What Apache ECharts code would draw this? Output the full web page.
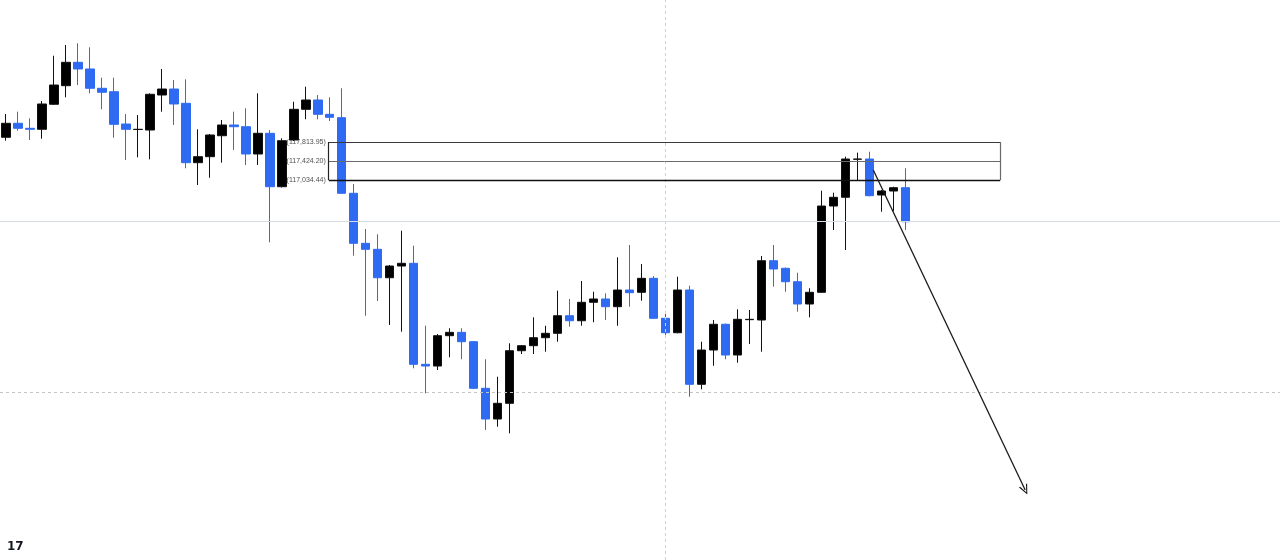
<!DOCTYPE html>
<html>
<head>
<meta charset="utf-8">
<style>
html,body{margin:0;padding:0;background:#fff;}
#chart{width:1280px;height:560px;}
</style>
<script src="https://cdn.jsdelivr.net/npm/echarts@6/dist/echarts.min.js"></script>
</head>
<body>
<div id="chart"></div>
<script>
// ---- data ----
const categories = Array.from({length: 76}, (_, i) => String(i + 1));
const opens = [117911,118198,118095,118075,118588,118969,119449,119312,118916,118846,118183,118070,118060,118778,118901,118608,117390,117513,117943,118163,118128,117568,117993,116897,117855,118485,118676,118382,118313,116762,115736,115613,115030,115270,115326,113254,113219,113841,113910,113718,112762,112132,112454,113533,113636,113800,113890,114251,114148,114526,114594,114436,114778,114731,115018,114198,113902,114778,112844,113547,114075,113445,114170,114163,115379,115223,114948,114491,114731,116501,116680,117460,117465,116727,116809,116877];
const closes = [118198,118095,118075,118594,118983,119449,119312,118916,118834,118177,118075,118075,118793,118901,118594,117390,117513,117958,118163,118128,117568,117993,116897,117841,118485,118676,118382,118321,116762,115736,115613,115030,115270,115326,113254,113219,113841,113910,113718,112762,112132,112454,113533,113636,113800,113890,114251,114148,114526,114594,114436,114778,114723,115018,114198,113902,114778,112844,113547,114075,113445,114177,114177,115379,115209,114948,114491,114731,116501,116680,117465,117465,116713,116809,116877,116179];
const lows = [117841,118046,117855,117882,118573,118731,118983,118813,118485,117902,117445,117500,117459,118436,118163,117275,116932,117082,117390,117650,117342,117342,115757,116881,117835,118280,118280,118245,116750,115482,114251,114553,114060,113923,113172,112659,113137,113398,113357,112747,111906,111974,111839,113465,113465,113513,113718,114025,114046,114116,114163,114046,114436,114559,114190,113855,113890,112589,112741,113225,113357,113287,113670,113513,114846,114743,114333,114218,114720,116009,115599,117020,116700,116384,116399,116009];
const highs = [118389,118436,118300,118655,119584,119804,119839,119757,119133,119133,118389,118368,118813,119312,119086,119100,118075,117978,118265,118436,118505,118813,118060,117890,118641,118949,118778,118731,118916,116953,116030,115921,115291,115995,115687,114046,113876,113993,113993,113732,113357,113000,113685,113650,114218,114046,114764,114594,114963,114743,114710,115449,115701,115312,115065,114300,115051,114866,113718,114163,114090,114382,114368,115476,115701,115240,115133,114813,116815,116774,117513,117595,117615,116829,116897,117275];

const boxLevels = [117813.95, 117424.20, 117034.44];
const boxLabels = ['(117,813.95)', '(117,424.20)', '(117,034.44)'];
const priceLine = 116194;
const dashedLevel = 112686;
const arrowStartPrice = 117240;
const arrowEndPrice = 110676;
const logoText = '17';

// ---- build ----
const TOTAL = 106; // empty slots to the right of the last bar
const axisCats = categories.concat(Array.from({length: TOTAL - categories.length}, () => ''));
const candleData = opens.map((o, i) => [o, closes[i], lows[i], highs[i]]);

const BOX_L = 26.917, BOX_R = 82.917;
const XMIN = -0.5, XMAX = TOTAL - 0.5;
const YMIN = 109240, YMAX = 120727;

function seg(a, b, style, endSym) {
  const end = {coord: b};
  if (endSym) { end.symbol = endSym.symbol; end.symbolSize = endSym.size; }
  return [{coord: a, lineStyle: style}, end];
}

const chevron = 'path://M0,10 L5,0 L10,10 L8.6,10 L5,2.6 L1.4,10 Z';

const option = {
  animation: false,
  backgroundColor: '#ffffff',
  grid: [
    {left: -1, width: TOTAL * 12, top: 0, height: 560, containLabel: false},
    {left: 0, right: 0, top: 0, height: 560, containLabel: false}
  ],
  xAxis: [
    {type: 'category', data: axisCats, show: false, boundaryGap: true, gridIndex: 0},
    {type: 'value', min: XMIN, max: XMAX, show: false, gridIndex: 0},
    {type: 'value', min: 0, max: 1, show: false, gridIndex: 1}
  ],
  yAxis: [
    {type: 'value', min: YMIN, max: YMAX, show: false, splitLine: {show: false}, gridIndex: 0},
    {type: 'value', min: YMIN, max: YMAX, show: false, splitLine: {show: false}, gridIndex: 1}
  ],
  series: [
    {
      type: 'line',
      xAxisIndex: 2,
      yAxisIndex: 1,
      data: [],
      silent: true,
      z: 1,
      markLine: {
        silent: true,
        symbol: ['none', 'none'],
        label: {show: false},
        emphasis: {disabled: true},
        data: [
          seg([0, priceLine], [1, priceLine], {color: '#d7dbe3', width: 1, type: 'solid'}),
          seg([0, dashedLevel], [1, dashedLevel], {color: '#c4c4c4', width: 1, type: [3, 3]})
        ]
      }
    },
    {
      type: 'line',
      xAxisIndex: 1,
      yAxisIndex: 0,
      data: [],
      silent: true,
      z: 1,
      markLine: {
        silent: true,
        symbol: ['none', 'none'],
        label: {show: false},
        emphasis: {disabled: true},
        data: [
          seg([55, YMIN], [55, YMAX], {color: '#d2d2d2', width: 1, type: [3, 3]})
        ]
      }
    },
    {
      type: 'candlestick',
      xAxisIndex: 0,
      yAxisIndex: 0,
      data: candleData,
      barWidth: 9,
      z: 3,
      itemStyle: {
        color: '#000000',
        color0: '#2f6bf2',
        borderColor: '#111111',
        borderColor0: '#2f6bf2',
        borderWidth: 1
      },
      emphasis: {disabled: true}
    },
    {
      type: 'line',
      xAxisIndex: 1,
      yAxisIndex: 0,
      data: [],
      silent: true,
      z: 5,
      markLine: {
        silent: true,
        symbol: ['none', 'none'],
        label: {show: false},
        emphasis: {disabled: true},
        data: [
          seg([BOX_L, boxLevels[0]], [BOX_R, boxLevels[0]], {color: '#3a3a3a', width: 1.2, type: 'solid'}),
          seg([BOX_L, boxLevels[1]], [BOX_R, boxLevels[1]], {color: '#6a6a6a', width: 1, type: 'solid'}),
          seg([BOX_L, boxLevels[2]], [BOX_R, boxLevels[2]], {color: '#111111', width: 1.4, type: 'solid'}),
          seg([BOX_L, boxLevels[0]], [BOX_L, boxLevels[2]], {color: '#222222', width: 1.2, type: 'solid'}),
          seg([BOX_R, boxLevels[0]], [BOX_R, boxLevels[2]], {color: '#6a6a6a', width: 1.2, type: 'solid'}),
          seg([72.33, arrowStartPrice], [85, arrowEndPrice], {color: '#1a1a1a', width: 1.3, type: 'solid'},
              {symbol: chevron, size: [9, 10]})
        ]
      }
    },
    {
      type: 'scatter',
      xAxisIndex: 1,
      yAxisIndex: 0,
      symbolSize: 0,
      silent: true,
      z: 2,
      data: boxLevels.map((v, i) => ({value: [BOX_L, v], name: boxLabels[i]})),
      label: {
        show: true,
        position: 'left',
        distance: 3,
        formatter: p => p.name,
        fontSize: 7,
        fontFamily: 'Liberation Sans, Arial, sans-serif',
        color: '#222222'
      }
    }
  ],
  graphic: [
    {
      type: 'text',
      left: 7,
      top: 541,
      style: {
        text: logoText,
        fontSize: 12,
        fontWeight: 900,
        fontFamily: 'DejaVu Sans, sans-serif',
        fill: '#131722'
      }
    }
  ]
};

const chart = echarts.init(document.getElementById('chart'), null, {renderer: 'canvas'});
chart.setOption(option);
</script>
</body>
</html>
